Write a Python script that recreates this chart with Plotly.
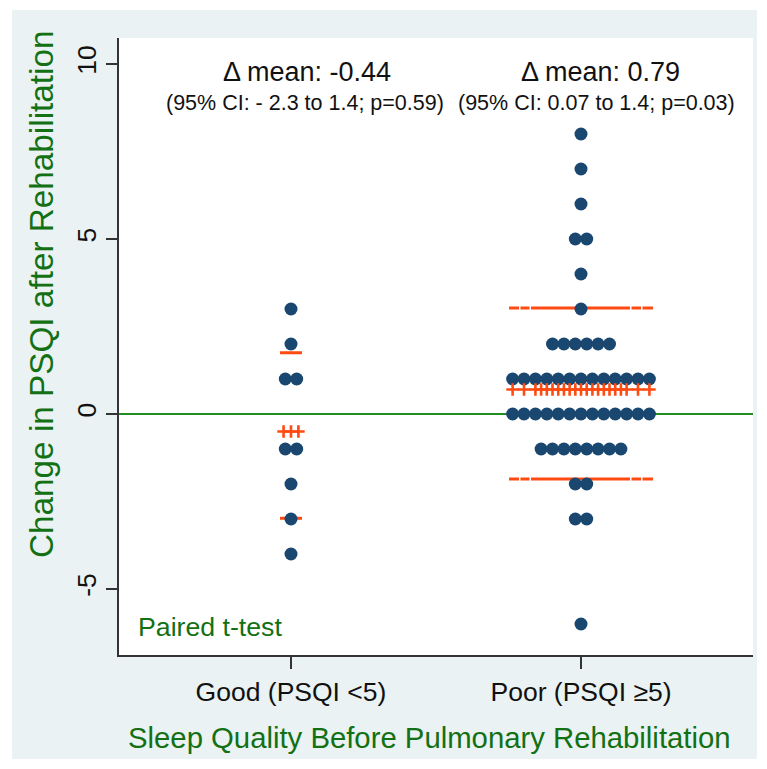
import plotly.graph_objects as go
from collections import Counter

# ---------------- data ----------------
categories = ["Good (PSQI <5)", "Poor (PSQI \u22655)"]
good_values = [3, 2, 1, 1, -1, -1, -2, -3, -4]
poor_values = ([8, 7, 6, 5, 5, 4, 3] + [2] * 6 + [1] * 13 + [0] * 13
               + [-1] * 8 + [-2] * 2 + [-3] * 2 + [-6])
mean_marks = [-0.5, 0.7]           # red "+" row (mean)
sd_upper = [1.75, 3.03]            # red dashes (mean + SD)
sd_lower = [-2.98, -1.86]          # red dashes (mean - SD)
poor_cross_offsets = [-6, -5] + [i * 0.5 for i in range(-8, 9)] + [5, 6]
good_cross_offsets = [-0.65, 0, 0.65]
y_ticks = [-5, 0, 5, 10]
annot_mean = ["\u0394 mean: -0.44", "\u0394 mean: 0.79"]
annot_ci = ["(95% CI: - 2.3 to 1.4; p=0.59)", "(95% CI: 0.07 to 1.4; p=0.03)"]
x_title = "Sleep Quality Before Pulmonary Rehabilitation"
y_title = "Change in PSQI after Rehabilitation"
test_label = "Paired t-test"

# ---------------- styling ----------------
OFF = 8  # page body margin of the html page
W, H = 767, 769
ML, MT = 119 - OFF, 38 - OFF
MR = W - (753 - OFF)
MB = H - (655 - OFF)
PW, PH = W - ML - MR, H - MT - MB
NAVY = "#1a476f"
RED = "#ff4b12"
GREEN_TXT = "#137013"
GREEN_LINE = "#228b22"
BG = "#eaf2f3"
AX = "#333333"
FONT = "Liberation Sans, Arial, sans-serif"
STEP = 0.0393
XR = [0.407, 2.593]
YR = [-6.886, 10.743]
PX_PER_X = PW / (XR[1] - XR[0])
SD_HALF_PX = [11, 72]
SD_DASH = ["solid", "10px,1.5px,9px,1.5px,99px,1.5px,9.5px,1.5px,12px"]


def px(x):
    return (x - OFF - ML) / PW


def py(y):
    return (H - MB - (y - OFF)) / PH


def stack(values, center):
    xs, ys = [], []
    cnt = Counter(values)
    for v in sorted(cnt, reverse=True):
        n = cnt[v]
        for i in range(n):
            xs.append(center + (i - (n - 1) / 2) * STEP)
            ys.append(v)
    return xs, ys


fig = go.Figure()

groups = [good_values, poor_values]
cross_offsets = [good_cross_offsets, poor_cross_offsets]
for gi, vals in enumerate(groups):
    c = gi + 1
    half = SD_HALF_PX[gi] / PX_PER_X
    for yv in (sd_upper[gi], sd_lower[gi]):
        fig.add_trace(go.Scatter(x=[c - half, c + half], y=[yv, yv], mode="lines",
                                 line=dict(color=RED, width=3, dash=SD_DASH[gi]),
                                 hoverinfo="skip", showlegend=False))
    xs, ys = stack(vals, c)
    fig.add_trace(go.Scatter(x=xs, y=ys, mode="markers",
                             marker=dict(color=NAVY, size=13, line=dict(width=0)),
                             showlegend=False))
    cx = [c + o * STEP for o in cross_offsets[gi]]
    fig.add_trace(go.Scatter(x=cx, y=[mean_marks[gi]] * len(cx), mode="markers",
                             marker=dict(symbol="cross-thin", size=9,
                                         line=dict(color=RED, width=2.6)),
                             showlegend=False))

shapes = [
    dict(type="rect", xref="paper", yref="paper", x0=px(12), x1=px(757),
         y0=py(759), y1=py(10), fillcolor=BG, line=dict(width=0), layer="below"),
    dict(type="rect", xref="paper", yref="paper", x0=0, x1=1, y0=0, y1=1,
         fillcolor="white", line=dict(width=0), layer="below"),
    dict(type="line", xref="paper", yref="y", x0=0, x1=1, y0=0, y1=0,
         line=dict(color=GREEN_LINE, width=2), layer="below"),
]

annotations = []
mean_cx = [307, 600]
ci_cx = [305, 596]
for i in range(2):
    annotations.append(dict(x=px(mean_cx[i]), y=py(72), xref="paper", yref="paper",
                            text=annot_mean[i], showarrow=False, xanchor="center",
                            yanchor="middle", font=dict(size=27, color="#111111", family=FONT)))
    annotations.append(dict(x=px(ci_cx[i]), y=py(103), xref="paper", yref="paper",
                            text=annot_ci[i], showarrow=False, xanchor="center",
                            yanchor="middle", font=dict(size=21.5, color="#111111", family=FONT)))
annotations.append(dict(x=px(136), y=py(627), xref="paper", yref="paper", text=test_label,
                        showarrow=False, xanchor="left", yanchor="middle",
                        font=dict(size=26.7, color=GREEN_TXT, family=FONT)))
annotations.append(dict(x=px(429), y=py(737), xref="paper", yref="paper", text=x_title,
                        showarrow=False, xanchor="center", yanchor="middle",
                        font=dict(size=29.3, color=GREEN_TXT, family=FONT)))
annotations.append(dict(x=px(41), y=py(294), xref="paper", yref="paper", text=y_title,
                        showarrow=False, xanchor="center", yanchor="middle", textangle=-90,
                        font=dict(size=33.3, color=GREEN_TXT, family=FONT)))

fig.update_layout(
    width=W, height=H,
    margin=dict(l=ML, r=MR, t=MT, b=MB, pad=0),
    paper_bgcolor="white", plot_bgcolor="white",
    font=dict(family=FONT, color="#111111"),
    shapes=shapes, annotations=annotations,
    xaxis=dict(range=XR, tickvals=[1, 2], ticktext=categories, ticks="outside",
               ticklen=12, tickwidth=1.5, tickcolor=AX, showline=True, linecolor=AX,
               linewidth=1.5, showgrid=False, zeroline=False,
               tickfont=dict(size=26.5, color="#111111")),
    yaxis=dict(range=YR, tickvals=y_ticks, ticktext=[str(t) for t in y_ticks],
               tickangle=-90, ticks="outside", ticklen=11, tickwidth=1.5, tickcolor=AX,
               showline=True, linecolor=AX, linewidth=1.5, showgrid=False,
               zeroline=False, tickfont=dict(size=26.5, color="#111111")),
)

fig.write_html("out.html")
